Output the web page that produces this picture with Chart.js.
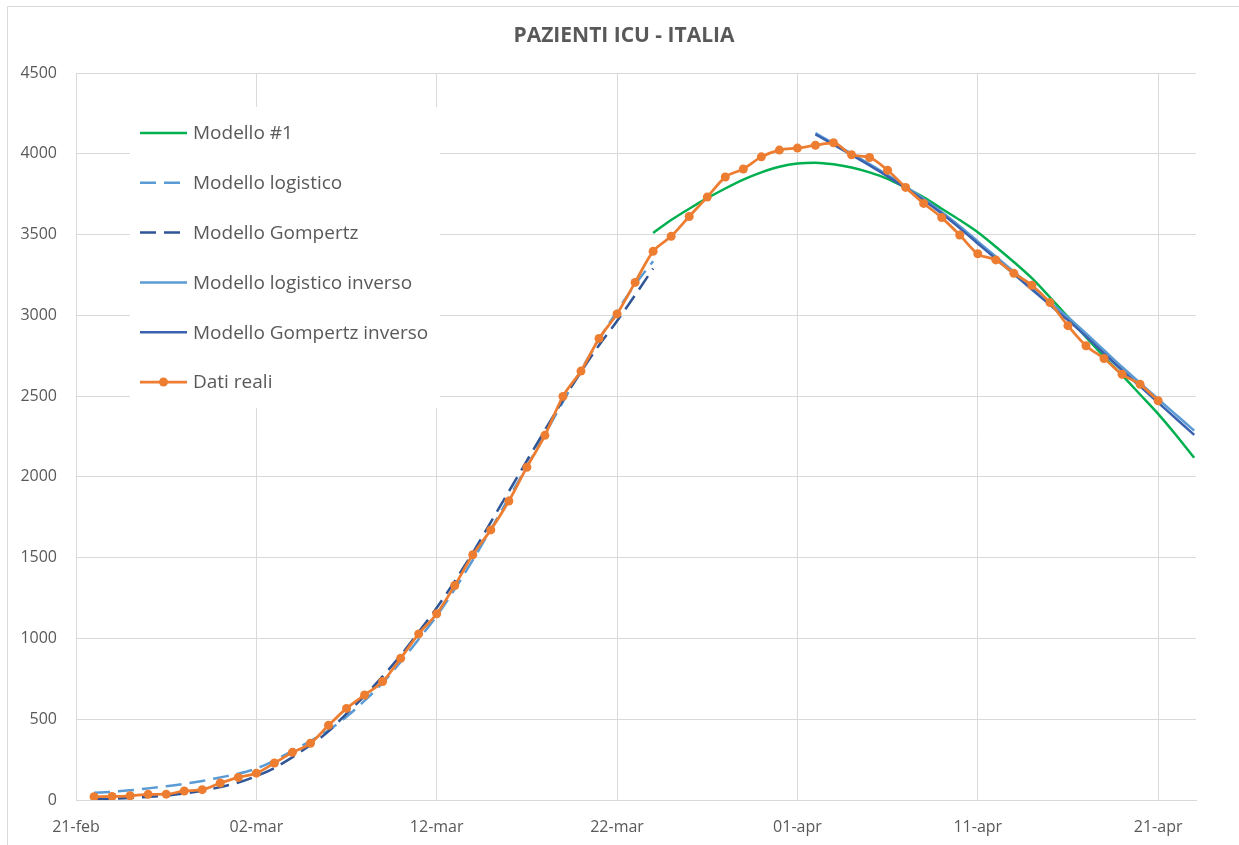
<!DOCTYPE html>
<html>
<head>
<meta charset="utf-8">
<script src="https://cdn.jsdelivr.net/npm/chart.js@4.4.0/dist/chart.umd.min.js"></script>
<style>
  body { margin: 0; background: #fff; }
  #wrap { width: 1239px; height: 845px; }
</style>
</head>
<body>
<div id="wrap"><canvas id="chartCanvas"></canvas></div>
<script>
// days counted from 21-feb (day 0)
const tickDays = [0, 10, 20, 30, 40, 50, 60];
const tickLabels = ['21-feb', '02-mar', '12-mar', '22-mar', '01-apr', '11-apr', '21-apr'];
const chartTitle = 'PAZIENTI ICU - ITALIA';

// Dati reali, from 22-feb to 21-apr
const realStart = 1;
const realValues = [
  20, 22, 26, 35, 36, 56, 64, 105,
  140, 166, 229, 295, 351, 462, 567, 650, 733, 877, 1028, 1153,
  1328, 1518, 1672, 1851, 2060, 2257, 2498, 2655, 2857, 3009,
  3204, 3396, 3489, 3612, 3732, 3856, 3906, 3981, 4023,
  4035, 4053, 4068, 3994, 3977, 3898, 3792, 3693, 3605, 3497,
  3381, 3343, 3260, 3186, 3079, 2936, 2812, 2733, 2635, 2573, 2471
];

// Modello #1, from 24-mar to 23-apr
const model1Start = 32;
const model1Values = [
  3510, 3590, 3660, 3725, 3785, 3840, 3885, 3920, 3940, 3945,
  3935, 3915, 3885, 3845, 3790, 3730, 3660, 3590, 3515, 3425,
  3330, 3230, 3112, 2990, 2865, 2745, 2630, 2510, 2390, 2258, 2118
];

// Modello logistico / Gompertz, from 22-feb to 24-mar
const logStart = 1;
const logValues = [
  45, 51, 60, 72, 85, 100, 118, 140, 163, 195,
  245, 305, 365, 432, 515, 615, 725, 855, 995, 1140,
  1305, 1485, 1675, 1870, 2065, 2265, 2465, 2660, 2850, 3025,
  3190, 3335
];
const gompStart = 1;
const gompValues = [
  5, 8, 13, 19, 27, 40, 57, 80, 108, 148,
  198, 265, 340, 425, 535, 645, 765, 895, 1040, 1190,
  1355, 1530, 1720, 1910, 2100, 2290, 2475, 2650, 2815, 2965,
  3125, 3290
];

// Modelli inversi, from 02-apr to 23-apr
const invStart = 41;
const invLogValues = [
  4128, 4065, 4001, 3936, 3868, 3797, 3721, 3640, 3552, 3458,
  3364, 3270, 3176, 3082, 2988, 2888, 2784, 2680, 2581, 2482, 2384, 2286
];
const invGompValues = [
  4120, 4057, 3993, 3928, 3860, 3788, 3712, 3630, 3540, 3445,
  3350, 3255, 3160, 3065, 2970, 2870, 2765, 2660, 2560, 2460, 2360, 2260
];

function toPoints(start, values) {
  return values.map((v, i) => ({ x: start + i, y: v }));
}

const textColor = '#595959';
const gridColor = '#d9d9d9';
const dash = [16, 8];

// white page, thin frame and the title
const frame = {
  id: 'frame',
  beforeDraw(chart) {
    const ctx = chart.ctx;
    ctx.save();
    ctx.fillStyle = '#fff';
    ctx.fillRect(0, 0, chart.width, chart.height);
    ctx.strokeStyle = gridColor;
    ctx.lineWidth = 1;
    ctx.beginPath();
    ctx.moveTo(7.5, chart.height);
    ctx.lineTo(7.5, 6.5);
    ctx.lineTo(chart.width, 6.5);
    ctx.stroke();
    ctx.fillStyle = textColor;
    ctx.font = 'bold 21px "Open Sans"';
    ctx.textAlign = 'center';
    ctx.textBaseline = 'middle';
    ctx.fillText(chartTitle, 624, 36);
    ctx.restore();
  }
};

// legend drawn inside the plot, over the grid
const insideLegend = {
  id: 'insideLegend',
  beforeDatasetsDraw(chart) {
    const ctx = chart.ctx;
    ctx.save();
    ctx.fillStyle = '#fff';
    ctx.fillRect(130, 107, 310, 301);
    ctx.font = '19px "Open Sans"';
    ctx.textBaseline = 'middle';
    ctx.textAlign = 'left';
    chart.data.datasets.forEach((ds, i) => {
      const y = 133 + i * 49.8;
      ctx.strokeStyle = ds.borderColor;
      ctx.lineWidth = ds.borderWidth;
      ctx.setLineDash(ds.borderDash || []);
      ctx.beginPath();
      ctx.moveTo(140, y);
      ctx.lineTo(187, y);
      ctx.stroke();
      ctx.setLineDash([]);
      if (ds.pointRadius) {
        ctx.fillStyle = ds.pointBackgroundColor;
        ctx.beginPath();
        ctx.arc(163.5, y, ds.pointRadius, 0, Math.PI * 2);
        ctx.fill();
      }
      ctx.fillStyle = textColor;
      ctx.fillText(ds.label, 193, y + 1);
    });
    ctx.restore();
  }
};

const line = (label, start, values, color, width, extra) => Object.assign({
  label: label,
  data: toPoints(start, values),
  borderColor: color,
  backgroundColor: color,
  borderWidth: width,
  pointRadius: 0,
  tension: 0.4,
  cubicInterpolationMode: 'monotone',
  fill: false
}, extra || {});

const ctx = document.getElementById('chartCanvas').getContext('2d');
const myChart = new Chart(ctx, {
  type: 'line',
  data: {
    datasets: [
      line('Modello #1', model1Start, model1Values, '#00B050', 2.5, { order: 5 }),
      line('Modello logistico', logStart, logValues, '#5B9BD5', 2.5, { borderDash: dash, order: 4 }),
      line('Modello Gompertz', gompStart, gompValues, '#2F5597', 2.5, { borderDash: dash, order: 3 }),
      line('Modello logistico inverso', invStart, invLogValues, '#5B9BD5', 2.5, { order: 2 }),
      line('Modello Gompertz inverso', invStart, invGompValues, '#3A62AE', 2.5, { order: 1 }),
      line('Dati reali', realStart, realValues, '#ED7D31', 2.75, {
        order: 0,
        tension: 0,
        pointRadius: 4.5,
        pointBackgroundColor: '#ED7D31',
        pointBorderWidth: 0
      })
    ]
  },
  options: {
    responsive: true,
    maintainAspectRatio: false,
    animation: false,
    layout: { padding: { left: 0, right: 43, top: 73, bottom: 0 } },
    plugins: {
      legend: { display: false },
      tooltip: { enabled: false },
      title: { display: false }
    },
    scales: {
      x: {
        type: 'linear',
        min: 0,
        max: 62.1,
        afterBuildTicks(scale) {
          scale.ticks = tickDays.map(v => ({ value: v }));
        },
        afterFit(scale) { scale.height = 45; },
        ticks: {
          color: textColor,
          font: { family: '"Open Sans"', size: 16 },
          padding: 18,
          maxRotation: 0,
          callback: (value) => tickLabels[tickDays.indexOf(value)]
        },
        grid: { color: gridColor, drawTicks: false },
        border: { color: gridColor }
      },
      y: {
        min: 0,
        max: 4500,
        afterFit(scale) { scale.width = 76; },
        ticks: {
          stepSize: 500,
          color: textColor,
          font: { family: '"Open Sans"', size: 16 },
          padding: 19,
          callback: (value) => String(value)
        },
        grid: { color: gridColor, drawTicks: false },
        border: { display: false }
      }
    }
  },
  plugins: [frame, insideLegend]
});
</script>
</body>
</html>
